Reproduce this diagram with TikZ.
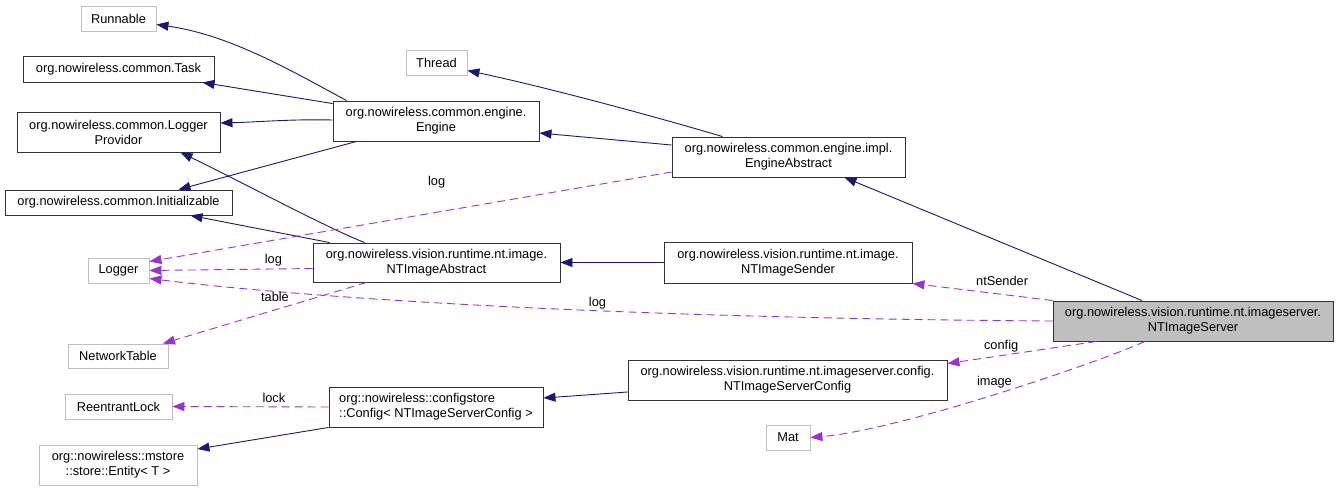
\documentclass[tikz,border=0pt]{standalone}
\usepackage{fontspec}
\setmainfont{Liberation Sans}
\usetikzlibrary{arrows.meta, positioning}
\definecolor{EdgeBlue}{HTML}{191970}
\definecolor{UsePurple}{HTML}{9A32CD}
\definecolor{ExtGray}{HTML}{BFBFBF}

\begin{document}
\begin{tikzpicture}[x=1pt, y=-1pt, line width=0.9pt, font=\fontsize{12.8}{15}\selectfont,
    cls/.style={draw=black!80, fill=white, align=center, inner sep=0pt, minimum height=40pt},
    ext/.style={cls, draw=ExtGray, minimum height=25pt},
    inherit/.style={EdgeBlue, line width=0.9pt, -{Triangle[length=12pt, width=9pt]}},
    uses/.style={UsePurple, line width=0.9pt, dash pattern=on 8pt off 5pt, -{Triangle[length=12pt, width=9pt]}},
    lbl/.style={text=black, inner sep=1pt}]
        \useasboundingbox (0,0) rectangle (1339,491);

        % Nodes
        \node[ext, minimum width=75pt] (runnable) at (118.5,18.5) {Runnable};
        \node[cls, minimum width=191pt, minimum height=26pt] (task) at (118.5,69) {org.nowireless.common.Task};
        \node[cls, minimum width=203pt] (provider) at (118.5,132) {org.nowireless.common.Logger\\Providor};
        \node[cls, minimum width=227pt, minimum height=25pt] (init) at (118.5,202.5) {org.nowireless.common.Initializable};
        \node[ext, minimum width=61pt] (logger) at (118.5,270.5) {Logger};
        \node[ext, minimum width=100pt, minimum height=24pt] (nettable) at (118,356) {NetworkTable};
        \node[ext, minimum width=107pt] (rlock) at (118.5,406.5) {ReentrantLock};
        \node[ext, minimum width=158pt, minimum height=40pt] (entity) at (118,465) {org::nowireless::mstore\\::store::Entity< T >};
        \node[ext, minimum width=61pt] (thread) at (436.5,62.5) {Thread};
        \node[cls, minimum width=206pt] (engine) at (436,121) {org.nowireless.common.engine.\\Engine};
        \node[cls, minimum width=247pt, minimum height=39pt] (ntabstract) at (436.5,262.5) {org.nowireless.vision.runtime.nt.image.\\NTImageAbstract};
        \node[cls, minimum width=214pt, align=left] (cfgstore) at (436,407) {org::nowireless::configstore\\::Config< NTImageServerConfig >};
        \node[cls, minimum width=233pt] (engabs) at (788.5,157) {org.nowireless.common.engine.impl.\\EngineAbstract};
        \node[cls, minimum width=248pt, minimum height=41pt] (sender) at (788,262.5) {org.nowireless.vision.runtime.nt.image.\\NTImageSender};
        \node[cls, minimum width=319pt] (srvconfig) at (787.5,380) {org.nowireless.vision.runtime.nt.imageserver.config.\\NTImageServerConfig};
        \node[ext, minimum width=44pt] (mat) at (788,437.5) {Mat};
        \node[cls, fill=ExtGray, minimum width=280pt] (server) at (1193,321) {org.nowireless.vision.runtime.nt.imageserver.\\NTImageServer};

        % Inheritance
        \draw[inherit] ([xshift=14pt]engine.north west) .. controls (290,70) and (230,35) .. ([yshift=-6pt]runnable.east);
        \draw[inherit] ([yshift=-3pt]engine.north west) -- ([xshift=-12pt]task.south east);
        \draw[inherit] ([yshift=1pt]engine.west) .. controls (290,119) and (260,122) .. ([yshift=9pt]provider.east);
        \draw[inherit] ([xshift=24pt]engine.south west) -- ([xshift=60pt]init.north);
        \draw[inherit] ([xshift=52pt]ntabstract.north west) .. controls (325,227) and (232,177) .. ([xshift=62pt]provider.south);
        \draw[inherit] ([xshift=17pt]ntabstract.north west) -- ([xshift=72pt]init.south);
        \draw[inherit] ([yshift=12pt]engabs.west) -- ([yshift=-12pt]engine.east);
        \draw[inherit] ([xshift=-66pt]engabs.north) .. controls (660,118) and (550,88) .. ([yshift=-8pt]thread.east);
        \draw[inherit] (sender.west) -- (ntabstract.east);
        \draw[inherit] ([xshift=-51pt]server.north) -- ([xshift=56pt]engabs.south);
        \draw[inherit] ([yshift=-12pt]srvconfig.west) -- ([yshift=9pt]cfgstore.east);
        \draw[inherit] (cfgstore.south west) -- ([yshift=16pt]entity.east);

        % Usage
        \draw[uses] ([yshift=-15pt]engabs.west) -- node[lbl, pos=0.45, yshift=30pt] {log} ([yshift=9pt]logger.east);
        \draw[uses] ([yshift=-6pt]ntabstract.west) -- node[lbl, pos=0.24, yshift=9pt] {log} (logger.east);
        \draw[uses] (server.west) .. controls (600,318) and (300,297) .. node[lbl, pos=0.385, yshift=8pt] {log} ([yshift=-8pt]logger.east);
        \draw[uses] ([xshift=54pt]ntabstract.south west) -- node[lbl, pos=0.45, yshift=13pt] {table} ([xshift=45pt]nettable.north);
        \draw[uses] (cfgstore.west) -- node[lbl, pos=0.35, yshift=9pt] {lock} (rlock.east);
        \draw[uses] (server.north west) -- node[lbl, pos=0.36, yshift=13pt] {ntSender} (sender.south east);
        \draw[uses] ([xshift=44pt]server.south west) -- node[lbl, pos=0.64, yshift=9pt] {config} ([yshift=-4pt]srvconfig.north east);
        \draw[uses] ([xshift=-48pt]server.south) .. controls (1100,362) and (900,430) .. node[lbl, pos=0.5, yshift=12pt] {image} (mat.east);
    \end{tikzpicture}
\end{document}
